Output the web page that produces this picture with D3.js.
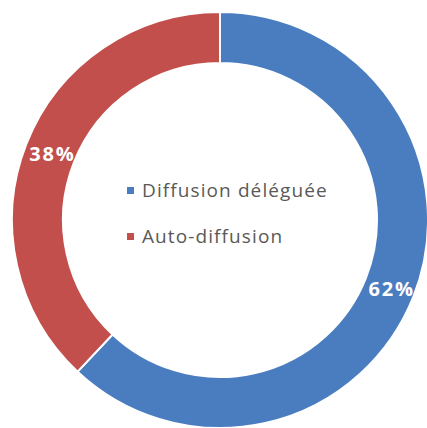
<!DOCTYPE html>
<html>
<head>
<meta charset="utf-8">
<script src="https://cdn.jsdelivr.net/npm/d3@7/dist/d3.min.js"></script>
<style>
  html, body { margin: 0; padding: 0; background: #ffffff; }
  svg { display: block; }
</style>
</head>
<body>
<svg id="chart" width="427" height="428"></svg>
<script>
// Répartition des modes de diffusion
const categories = ["Diffusion déléguée", "Auto-diffusion"];
const values = [62, 38];
const labels = ["62%", "38%"];
const colors = ["#4a7dc0", "#c24f4c"];

const svg = d3.select("#chart");
const cx = 220, cy = 220;
const outerR = 208, innerR = 157;

const pie = d3.pie().sort(null).value(d => d.value);
const arcs = pie(categories.map((c, i) => ({ name: c, value: values[i], label: labels[i], color: colors[i] })));

const arc = d3.arc().innerRadius(innerR).outerRadius(outerR);

const g = svg.append("g").attr("transform", `translate(${cx},${cy})`);

g.selectAll("path.slice")
  .data(arcs)
  .join("path")
  .attr("class", "slice")
  .attr("d", arc)
  .attr("fill", d => d.data.color)
  .attr("stroke", "#ffffff")
  .attr("stroke-width", 2);

// Percentage labels in the middle of each ring segment
g.selectAll("text.pct")
  .data(arcs)
  .join("text")
  .attr("class", "pct")
  .attr("transform", d => { const c = arc.centroid(d); return `translate(${c[0] + 2},${c[1] + 1})`; })
  .attr("text-anchor", "middle")
  .attr("dominant-baseline", "central")
  .attr("font-family", "'Open Sans', Lato, sans-serif")
  .attr("font-weight", 700)
  .attr("font-size", 20)
  .attr("letter-spacing", 1.8)
  .attr("fill", "#ffffff")
  .text(d => d.data.label);

// Legend in the centre of the ring
const legend = svg.append("g").attr("transform", "translate(127,0)");
const rowY = [190, 236];
const item = legend.selectAll("g.item")
  .data(categories)
  .join("g")
  .attr("class", "item")
  .attr("transform", (d, i) => `translate(0,${rowY[i]})`);

item.append("rect")
  .attr("x", 0).attr("y", -3)
  .attr("width", 7).attr("height", 7)
  .attr("fill", (d, i) => colors[i]);

item.append("text")
  .attr("x", 15)
  .attr("y", 7)
  .attr("font-family", "'Open Sans', Lato, sans-serif")
  .attr("font-size", 19)
  .attr("letter-spacing", 1.1)
  .attr("fill", "#595959")
  .text(d => d);
</script>
</body>
</html>
